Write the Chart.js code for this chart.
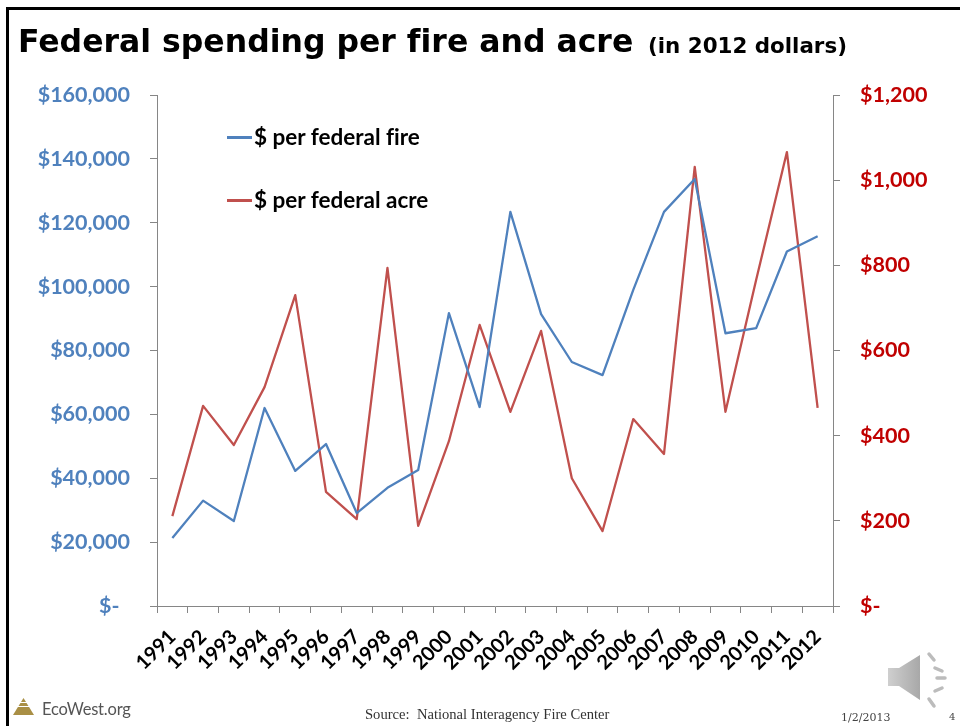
<!DOCTYPE html>
<html>
<head>
<meta charset="utf-8">
<title>Federal spending per fire and acre</title>
<script src="https://cdn.jsdelivr.net/npm/chart.js@4/dist/chart.umd.min.js"></script>
<style>
  html, body { margin: 0; padding: 0; background: #fff; }
  #slide { position: relative; width: 960px; height: 726px; overflow: hidden; }
  #frame { position: absolute; left: 6px; top: 7px; width: 960px; height: 730px; border: 3px solid #000; box-sizing: border-box; }
  #chart { position: absolute; left: 0; top: 0; }
  .txt { position: absolute; white-space: nowrap; font-variant-ligatures: none; }
  #title { left: 18px; top: 23px; font: bold 31.5px "DejaVu Sans"; color: #000; font-variant-ligatures: none; }
  #subtitle { left: 648px; top: 33px; font: bold 21.4px "DejaVu Sans"; color: #000; }
  .legendLine { position: absolute; left: 227px; width: 25px; height: 2.5px; }
  .legendText { left: 254px; font: bold 22.5px Lato; color: #000; font-variant-ligatures: none; }
  #source { left: 365px; top: 706px; font: 14.6px "Liberation Serif"; color: #333; }
  #date { left: 841px; top: 711px; font: 11px "DejaVu Serif"; color: #444; }
  #page { left: 949px; top: 711px; font: 10px "DejaVu Serif"; color: #444; }
  #logo { left: 42px; top: 699px; font: 16.5px Lato; color: #555; letter-spacing: -0.2px; }
</style>
</head>
<body>
<div id="slide">
  <div id="frame"></div>
  <canvas id="chart" width="960" height="726"></canvas>
  <div class="txt" id="title">Federal spending per fire and acre</div>
  <div class="txt" id="subtitle">(in 2012 dollars)</div>
  <div class="legendLine" id="line0" style="top:136px"></div>
  <div class="txt legendText" id="label0" style="top:123px"></div>
  <div class="legendLine" id="line1" style="top:199px"></div>
  <div class="txt legendText" id="label1" style="top:186px"></div>
  <svg style="position:absolute;left:12px;top:697px" width="24" height="20">
    <polygon points="11.5,1 22,18 1,18" fill="#a98f45"/>
    <rect x="1" y="5" width="22" height="1" fill="#fff"/>
    <rect x="1" y="9" width="22" height="1" fill="#fff"/>
  </svg>
  <div class="txt" id="logo">EcoWest.org</div>
  <div class="txt" id="source">Source:&nbsp; National Interagency Fire Center</div>
  <div class="txt" id="date">1/2/2013</div>
  <div class="txt" id="page">4</div>
  <svg style="position:absolute;left:886px;top:650px" width="64" height="60">
    <defs>
      <linearGradient id="spk" x1="0" y1="0" x2="1" y2="0">
        <stop offset="0" stop-color="#cfcfcf"/>
        <stop offset="1" stop-color="#a8a8a8"/>
      </linearGradient>
    </defs>
    <polygon points="2,18 13,18 34,5 34,50 13,36 2,36" fill="url(#spk)"/>
    <g stroke="#bcbcbc" stroke-width="3.5" stroke-linecap="round">
      <line x1="43" y1="4" x2="48" y2="10"/>
      <line x1="49" y1="18" x2="56" y2="21"/>
      <line x1="51" y1="28" x2="59" y2="28"/>
      <line x1="49" y1="41" x2="56" y2="38"/>
      <line x1="43" y1="49" x2="48" y2="56"/>
    </g>
  </svg>
</div>
<script>
const years = ["1991","1992","1993","1994","1995","1996","1997","1998","1999","2000","2001","2002","2003","2004","2005","2006","2007","2008","2009","2010","2011","2012"];
const perFire = [21300,33000,26600,62000,42300,50700,29100,37000,42600,91700,62300,123400,91400,76400,72300,99000,123400,133700,85400,87000,111000,115800];
const perAcre = [211,470,378,514,730,268,204,794,188,387,660,456,646,300,176,439,357,1031,456,766,1066,465];
const fireLabel = "$ per federal fire";
const acreLabel = "$ per federal acre";
const blue = "#4F81BD";
const red = "#C0504D";
const darkRed = "#C00000";
const axisGrey = "#868686";

// dollars with commas, zero shown as "$-" like the excel accounting format
function money(value, pad) {
  if (value === 0) return "$-" + pad;
  return "$" + value.toLocaleString("en-US");
}

document.getElementById("line0").style.background = blue;
document.getElementById("line1").style.background = red;
document.getElementById("label0").textContent = fireLabel;
document.getElementById("label1").textContent = acreLabel;

const ctx = document.getElementById("chart").getContext("2d");
new Chart(ctx, {
  type: "line",
  data: {
    labels: years,
    datasets: [
      { label: fireLabel, data: perFire, yAxisID: "y", borderColor: blue, borderWidth: 2.3, borderJoinStyle: "round", pointRadius: 0, tension: 0 },
      { label: acreLabel, data: perAcre, yAxisID: "y1", borderColor: red, borderWidth: 2.3, borderJoinStyle: "round", pointRadius: 0, tension: 0 },
    ],
  },
  options: {
    responsive: false,
    animation: false,
    layout: { padding: { top: 95, left: 0, right: 0, bottom: 0 } },
    plugins: { legend: { display: false }, tooltip: { enabled: false } },
    scales: {
      x: {
        offset: true,
        grid: { offset: true, drawOnChartArea: false, color: axisGrey, tickLength: 7 },
        border: { color: axisGrey },
        ticks: { autoSkip: false, minRotation: 45, maxRotation: 45, padding: 12, color: "#000", font: { family: "Lato", weight: "bold", size: 20 } },
        afterFit: (scale) => { scale.height = 120; },
      },
      y: {
        position: "left",
        min: 0,
        max: 160000,
        grid: { drawOnChartArea: false, color: axisGrey, tickLength: 7 },
        border: { color: axisGrey },
        ticks: { stepSize: 20000, padding: 20, color: blue, font: { family: "Lato", weight: "bold", size: 21.5 }, callback: (v) => money(v, "\u00a0\u00a0") },
        afterFit: (scale) => { scale.width = 157; },
      },
      y1: {
        position: "right",
        min: 0,
        max: 1200,
        grid: { drawOnChartArea: false, color: axisGrey, tickLength: 7 },
        border: { color: axisGrey },
        ticks: { stepSize: 200, padding: 20, color: darkRed, font: { family: "Lato", weight: "bold", size: 21.5 }, callback: (v) => money(v, "") },
        afterFit: (scale) => { scale.width = 127; },
      },
    },
  },
});
</script>
</body>
</html>
